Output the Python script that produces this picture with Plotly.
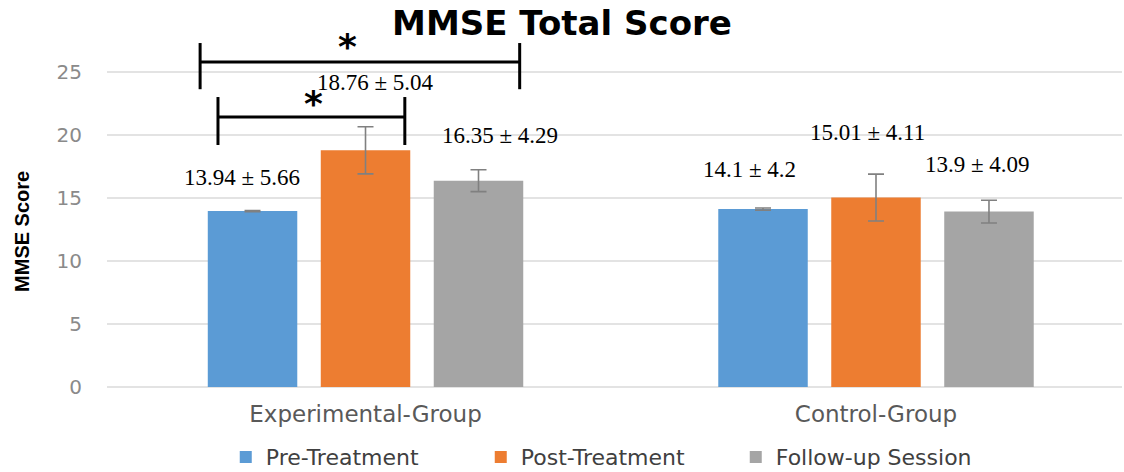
import plotly.graph_objects as go

# ---- data ----
groups = ["Experimental-Group", "Control-Group"]
series = ["Pre-Treatment", "Post-Treatment", "Follow-up Session"]

pre_mean = [13.94, 14.1]
post_mean = [18.76, 15.01]
follow_mean = [16.35, 13.9]

pre_sd = [5.66, 4.2]
post_sd = [5.04, 4.11]
follow_sd = [4.29, 4.09]

# error bar half-lengths shown on the bars
pre_err = [0.05, 0.08]
post_err = [1.87, 1.86]
follow_err = [0.87, 0.9]

colors = ["#5B9BD5", "#ED7D31", "#A5A5A5"]

means = [pre_mean, post_mean, follow_mean]
sds = [pre_sd, post_sd, follow_sd]
errs = [pre_err, post_err, follow_err]

fig = go.Figure()
for name, m, e, c in zip(series, means, errs, colors):
    fig.add_trace(go.Bar(
        x=groups, y=m, name=name, marker=dict(color=c, line=dict(width=0)),
        error_y=dict(type="data", array=e, visible=True, color="#808080",
                     thickness=1.6, width=8),
    ))

# mean ± SD labels: (x pixel shift from group centre, y in data units)
label_pos = [
    [(-124, 16.64), (-127, 17.2)],
    [(10, 24.17), (-9, 20.2)],
    [(134, 19.97), (101, 17.67)],
]
annotations = []
for si in range(3):
    for gi, g in enumerate(groups):
        dx, ly = label_pos[si][gi]
        annotations.append(dict(
            x=g, y=ly, xref="x", yref="y", xshift=dx,
            text=f"{means[si][gi]} ± {sds[si][gi]}", showarrow=False,
            font=dict(family="Liberation Serif", size=23, color="black"),
            xanchor="center", yanchor="middle",
        ))

# significance brackets (category index units on x)
brackets = [
    dict(x0=-0.324, x1=0.302, y=25.75, y_lo=23.6, y_hi=27.26, star_x=-0.036, star_y=27.0),
    dict(x0=-0.289, x1=0.077, y=21.4, y_lo=19.18, y_hi=22.98, star_x=-0.101, star_y=22.5),
]
shapes = []
for b in brackets:
    line = dict(color="black", width=3)
    shapes.append(dict(type="line", xref="x", yref="y", x0=b["x0"], x1=b["x1"],
                       y0=b["y"], y1=b["y"], line=line))
    for xx in (b["x0"], b["x1"]):
        shapes.append(dict(type="line", xref="x", yref="y", x0=xx, x1=xx,
                           y0=b["y_lo"], y1=b["y_hi"], line=line))
    annotations.append(dict(
        x=b["star_x"], y=b["star_y"], xref="x", yref="y", text="<b>*</b>",
        showarrow=False, font=dict(family="DejaVu Sans", size=36, color="black"),
        xanchor="center", yanchor="middle",
    ))

# y axis title
annotations.append(dict(
    x=-0.0837, y=0.447, xref="paper", yref="paper", text="<b>MMSE Score</b>",
    textangle=-90, showarrow=False,
    font=dict(family="Liberation Sans", size=20, color="black"),
    xanchor="center", yanchor="middle",
))

fig.update_layout(
    width=1124, height=472,
    margin=dict(l=107, r=2, t=40, b=85, autoexpand=False),
    paper_bgcolor="white", plot_bgcolor="white",
    barmode="group", bargap=0.336, bargroupgap=0.208,
    title=dict(text="<b>MMSE Total Score</b>", x=0.5, y=0.951,
               xanchor="center", yanchor="middle",
               font=dict(family="DejaVu Sans", size=34, color="black")),
    xaxis=dict(range=[-0.5064, 1.4819], showgrid=False, showline=False, ticks="",
               tickfont=dict(family="DejaVu Sans", size=23, color="#595959"),
               ticklabelstandoff=11),
    yaxis=dict(range=[0, 27.5], tickvals=[0, 5, 10, 15, 20, 25],
               showgrid=True, gridcolor="#e3e3e3", gridwidth=1.5,
               zeroline=True, zerolinecolor="#e3e3e3", zerolinewidth=1.5,
               showline=False, ticks="", ticklabelstandoff=24,
               tickfont=dict(family="DejaVu Sans", size=20, color="#8a8a8a")),
    legend=dict(orientation="h", x=0.117, y=-0.202, xanchor="left", yanchor="middle",
                font=dict(family="DejaVu Sans", size=22, color="#404040"),
                itemwidth=30, entrywidth=210, entrywidthmode="pixels"),
    annotations=annotations,
    shapes=shapes,
    showlegend=True,
)

fig.write_html("out.html")
